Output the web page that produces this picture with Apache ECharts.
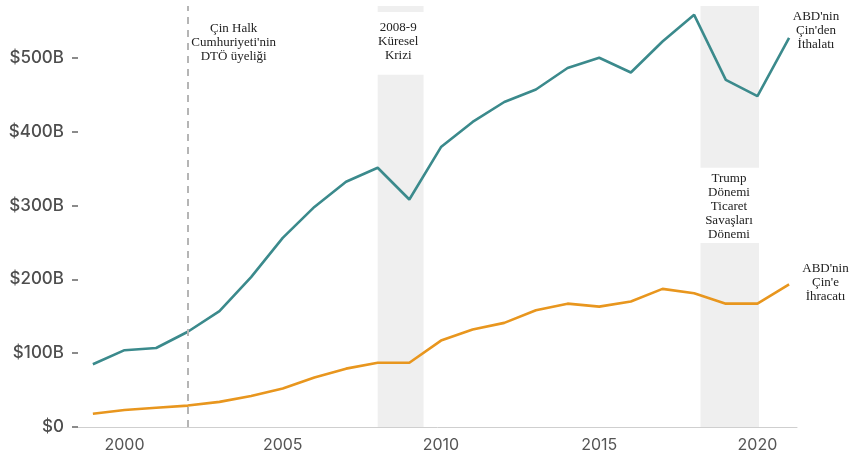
<!DOCTYPE html>
<html>
<head>
<meta charset="utf-8">
<script src="https://cdn.jsdelivr.net/npm/echarts@6/dist/echarts.min.js"></script>
<style>
html,body{margin:0;padding:0;background:#fff;}
#chart{width:850px;height:459px;}
</style>
</head>
<body>
<div id="chart"></div>
<script>
const years = [1999,2000,2001,2002,2003,2004,2005,2006,2007,2008,2009,2010,2011,2012,2013,2014,2015,2016,2017,2018,2019,2020,2021];
const imports = [85,104,107,129,157,203,256,298,332,351,308,379,413,440,457,486,500,480,522,558,470,448,527];
const exportsData = [18,23,26,29,34,42,52,67,79,87,87,117,132,141,158,167,163,170,187,181,167,167,193];
const xTicks = [2000,2005,2010,2015,2020];
const yTicks = [0,100,200,300,400,500];
const wtoYear = 2002;
const crisisSpan = [2008, 2009.45];
const tradeWarSpan = [2018.2, 2020.05];
const crisisGap = [477, 562];
const tradeWarGap = [249, 351];
const yTop = 570;

const annotations = [
  {x: 2003.45, y: 520, text: "Çin Halk\nCumhuriyeti'nin\nDTÖ üyeliği"},
  {x: 2008.65, y: 522, text: "2008-9\nKüresel\nKrizi"},
  {x: 2019.1, y: 299, text: "Trump\nDönemi\nTicaret\nSavaşları\nDönemi"},
  {x: 2021.85, y: 537, text: "ABD'nin\nÇin'den\nİthalatı"},
  {x: 2022.15, y: 196, text: "ABD'nin\nÇin'e\nİhracatı"}
];

const chart = echarts.init(document.getElementById('chart'), null, {renderer: 'canvas'});
const shade = '#efefef';
function span(s, y0, y1){ return [{xAxis: s[0], yAxis: y0}, {xAxis: s[1], yAxis: y1}]; }

chart.setOption({
  animation: false,
  backgroundColor: '#fff',
  grid: {left: 78, right: 53, top: 6, bottom: 32},
  xAxis: {
    type: 'value', min: 1998.53, max: 2021.25,
    splitLine: {show: false},
    axisLine: {show: true, lineStyle: {color: '#cfcfcf', width: 1}},
    axisTick: {show: false},
    axisLabel: {customValues: xTicks, color: '#555', fontSize: 16, fontFamily: 'Inter', margin: 10,
      formatter: v => String(v)}
  },
  yAxis: {
    type: 'value', min: 0, max: yTop,
    splitLine: {show: false},
    axisLine: {show: false},
    axisTick: {show: true, customValues: yTicks, length: 6, lineStyle: {color: '#666', width: 1.5}},
    axisLabel: {customValues: yTicks, color: '#4e4e4e', fontSize: 17, fontWeight: 500, fontFamily: 'Inter', margin: 14,
      formatter: v => v === 0 ? '$0' : '$' + v + 'B'}
  },
  series: [
    {
      type: 'line', z: 1, data: [], silent: true,
      markArea: {
        silent: true,
        itemStyle: {color: shade},
        data: [
          span(crisisSpan, 0, crisisGap[0]),
          span(crisisSpan, crisisGap[1], yTop),
          span(tradeWarSpan, 0, tradeWarGap[0]),
          span(tradeWarSpan, tradeWarGap[1], yTop)
        ]
      },
      markLine: {
        silent: true, symbol: 'none', label: {show: false},
        lineStyle: {type: [7, 6], color: '#b5b5b5', width: 2},
        data: [{xAxis: wtoYear}]
      }
    },
    {
      name: 'imports', type: 'line', z: 3, showSymbol: false,
      data: years.map((y, i) => [y, imports[i]]),
      lineStyle: {color: '#3b8a8c', width: 2.6}, itemStyle: {color: '#3b8a8c'}
    },
    {
      name: 'exports', type: 'line', z: 3, showSymbol: false,
      data: years.map((y, i) => [y, exportsData[i]]),
      lineStyle: {color: '#e8961e', width: 2.6}, itemStyle: {color: '#e8961e'}
    }
  ]
});

chart.setOption({
  graphic: annotations.map(a => {
    const p = chart.convertToPixel({gridIndex: 0}, [a.x, a.y]);
    return {
      type: 'text', x: p[0], y: p[1], z: 10,
      style: {text: a.text, fill: '#222', font: '13px "Liberation Serif"', align: 'center', verticalAlign: 'middle', lineHeight: 14}
    };
  })
});
</script>
</body>
</html>
